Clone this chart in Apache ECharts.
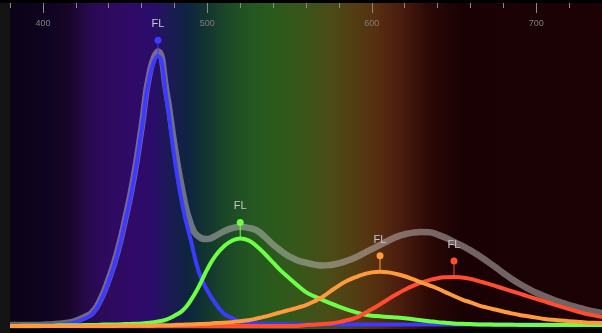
<!DOCTYPE html>
<html>
<head>
<meta charset="utf-8">
<script src="https://cdn.jsdelivr.net/npm/echarts@6/dist/echarts.min.js"></script>
<style>
html, body { margin: 0; padding: 0; background: #000; }
#showChart { width: 602px; height: 333px; }
</style>
</head>
<body>
<div id="showChart"></div>
<script>
// wavelength grid (nm)
var wavelengths = [380, 385, 390, 395, 400, 405, 410, 415, 420, 425, 430, 435, 440, 445, 450, 455, 460, 465, 470, 475,
    480, 485, 490, 495, 500, 505, 510, 515, 520, 525, 530, 535, 540, 545, 550, 555, 560, 565, 570, 575,
    580, 585, 590, 595, 600, 605, 610, 615, 620, 625, 630, 635, 640, 645, 650, 655, 660, 665, 670, 675,
    680, 685, 690, 695, 700, 705, 710, 715, 720, 725, 730, 735, 740];

var majorTicks = [400, 500, 600, 700];

var blueVals = [0, 0, 0, 0, 0.1, 0.2, 0.4, 0.7, 1.2, 2.2, 3.7, 7.6, 13.8, 21.7, 32.3, 44.4, 60.5, 77.5, 83.5, 71,
    52, 37, 26.5, 16.5, 11, 7, 3.9, 2.5, 1.4, 1.0, 0.8, 0.7, 0.6, 0.6, 0.5, 0.5, 0.5, 0.5, 0.5, 0.5,
    0.5, 0.5, 0.5, 0.5, 0.5, 0.5, 0.5, 0.5, 0.5, 0.5, 0.5, 0.5, 0.5, 0.5, 0.5, 0.5, 0.5, 0.5, 0.5, 0.5,
    0.5, 0.5, 0.5, 0.5, 0.5, 0.5, 0.5, 0.5, 0.5, 0.5, 0.5, 0.5, 0.5];

var greenVals = [0, 0, 0.1, 0.1, 0.1, 0.1, 0.2, 0.2, 0.2, 0.3, 0.3, 0.4, 0.5, 0.5, 0.6, 0.7, 0.8, 1.0, 1.4, 2.0,
    3.2, 4.8, 8.0, 12.4, 17.6, 21.8, 24.6, 26.4, 27.1, 26.5, 24.7, 22.3, 19.6, 17.0, 14.7, 12.5, 10.5, 9.2, 8.1, 7.0,
    6.0, 5.1, 4.3, 3.6, 3.2, 3.0, 2.8, 2.6, 2.4, 2.1, 1.8, 1.5, 1.2, 1.0, 0.8, 0.7, 0.6, 0.5, 0.5, 0.4,
    0.4, 0.4, 0.3, 0.3, 0.3, 0.3, 0.3, 0.3, 0.3, 0.3, 0.3, 0.3, 0.3];

var orangeVals = [0, 0, 0, 0, 0, 0, 0, 0, 0, 0, 0, 0, 0, 0, 0.1, 0.1, 0.1, 0.1, 0.2, 0.2,
    0.3, 0.4, 0.5, 0.6, 0.7, 0.9, 1.0, 1.2, 1.5, 1.8, 2.3, 2.9, 3.6, 4.3, 5.0, 5.7, 6.5, 7.6, 9.0, 10.8,
    12.5, 14.0, 15.1, 16.0, 16.6, 16.8, 16.6, 16.1, 15.4, 14.5, 13.5, 12.6, 11.6, 10.4, 9.3, 8.2, 7.3, 6.4, 5.7, 5.1,
    4.5, 3.9, 3.4, 3.0, 2.6, 2.2, 1.9, 1.7, 1.5, 1.3, 1.1, 1.0, 0.9];

var redVals = [0, 0, 0, 0, 0, 0, 0, 0, 0, 0, 0, 0, 0, 0, 0, 0, 0, 0, 0, 0,
    0, 0, 0, 0, 0, 0, 0, 0, 0, 0, 0, 0, 0, 0, 0, 0, 0.3, 0.4, 0.6, 0.8,
    1.2, 1.8, 2.5, 3.8, 5.2, 6.7, 8.3, 9.8, 11.2, 12.4, 13.4, 14.2, 14.8, 15.1, 15.2, 15.0, 14.6, 13.9, 13.2, 12.4,
    11.6, 10.8, 10.0, 9.2, 8.4, 7.6, 6.8, 6.0, 5.2, 4.5, 3.8, 3.3, 2.8];

// total emission
var totalVals = [0.3, 0.3, 0.3, 0.3, 0.4, 0.5, 0.7, 1.0, 1.6, 2.7, 4.2, 8.2, 14.5, 22.4, 33.0, 45.3, 61.4, 78.6, 85.0, 73.0,
    56.0, 41.5, 31.5, 27.6, 26.9, 27.9, 29.3, 30.3, 30.7, 30.4, 29.6, 27.6, 25.2, 23.2, 21.5, 20.3, 19.6, 19.0, 18.7, 18.9,
    19.4, 20.2, 21.2, 22.5, 23.8, 25.1, 26.4, 27.6, 28.4, 28.9, 29.1, 29.0, 28.3, 27.3, 26.0, 24.8, 23.4, 21.8, 20.1, 18.3,
    16.4, 14.6, 13.0, 11.6, 10.3, 9.2, 8.2, 7.3, 6.5, 5.8, 5.1, 4.5, 4.0];

function pairs(vals) {
    return wavelengths.map(function (w, i) { return [w, vals[i]]; });
}

function peakOf(vals) {
    var k = 0;
    for (var i = 1; i < vals.length; i++) {
        if (vals[i] > vals[k]) k = i;
    }
    return [wavelengths[k], vals[k]];
}

function curve(name, vals, color, withPeak) {
    var s = {
        name: name,
        type: 'line',
        smooth: true,
        symbol: 'none',
        data: pairs(vals),
        lineStyle: { color: color, width: 4 },
        itemStyle: { color: color }
    };
    if (withPeak) {
        var p = peakOf(vals);
        s.markPoint = {
            itemStyle: { color: color },
            data: [
                // stem
                { coord: p, symbol: 'rect', symbolSize: [1, 16], symbolOffset: [0, -8], label: { show: false } },
                // dot + label
                {
                    coord: p, symbol: 'circle', symbolSize: 7, symbolOffset: [0, -16],
                    label: {
                        show: true, position: 'top', distance: 7, formatter: 'FL',
                        color: '#c8c8c8', fontSize: 11, fontFamily: 'Liberation Sans'
                    }
                }
            ]
        };
    }
    return s;
}

var tickStyle = { color: '#8a8a8a', width: 1 };

var option = {
    backgroundColor: '#000',
    animation: false,
    graphic: [
        { type: 'rect', z: -10, silent: true, shape: { x: 0, y: 3, width: 10, height: 330 }, style: { fill: '#141414' } },
        {
            type: 'rect', z: -10, silent: true,
            shape: { x: 10, y: 3, width: 592, height: 326 },
            style: {
                fill: new echarts.graphic.LinearGradient(0, 0, 1, 0, [
                    { offset: 0.00, color: '#0b0316' },
                    { offset: 0.06, color: '#0e0420' },
                    { offset: 0.10, color: '#180628' },
                    { offset: 0.13, color: '#260a4c' },
                    { offset: 0.16, color: '#2e0a5e' },
                    { offset: 0.21, color: '#300a68' },
                    { offset: 0.24, color: '#2a0c6a' },
                    { offset: 0.265, color: '#1e1858' },
                    { offset: 0.30, color: '#0e2440' },
                    { offset: 0.33, color: '#123430' },
                    { offset: 0.37, color: '#1c4a26' },
                    { offset: 0.41, color: '#245820' },
                    { offset: 0.45, color: '#2c5a1c' },
                    { offset: 0.49, color: '#38561a' },
                    { offset: 0.54, color: '#4a4c16' },
                    { offset: 0.58, color: '#523e12' },
                    { offset: 0.62, color: '#562e0f' },
                    { offset: 0.65, color: '#4e2010' },
                    { offset: 0.68, color: '#3e140a' },
                    { offset: 0.71, color: '#2a0806' },
                    { offset: 0.76, color: '#1a0204' },
                    { offset: 1.00, color: '#1c0204' }
                ])
            }
        }
    ],
    grid: { left: 10, right: 0, top: 3, bottom: 7 },
    xAxis: [
        {
            type: 'value', min: 380, max: 740, interval: 20, position: 'top',
            axisLine: { show: false, onZero: false },
            axisTick: { show: true, inside: true, length: 5, lineStyle: tickStyle },
            axisLabel: { show: false },
            splitLine: { show: false }
        },
        {
            type: 'value', min: 380, max: 740, position: 'top',
            axisLine: { show: false, onZero: false },
            axisTick: { show: true, inside: true, length: 10, customValues: majorTicks, lineStyle: tickStyle },
            axisLabel: {
                inside: true, customValues: majorTicks, margin: 16,
                color: '#7f7f7f', fontSize: 9, fontFamily: 'Liberation Sans'
            },
            splitLine: { show: false }
        }
    ],
    yAxis: { type: 'value', min: 0, max: 100, show: false },
    series: [
        {
            name: 'total', type: 'line', smooth: true, symbol: 'none',
            data: pairs(totalVals),
            lineStyle: { color: 'rgba(185,180,180,0.55)', width: 6.5 }
        },
        curve('blue', blueVals, '#3b3bff', true),
        curve('green', greenVals, '#6dff45', true),
        curve('red', redVals, '#ff4d2e', true),
        curve('orange', orangeVals, '#ff9b3c', true)
    ]
};

var chartOutChar = echarts.init(document.getElementById('showChart'));
chartOutChar.setOption(option);
</script>
</body>
</html>
